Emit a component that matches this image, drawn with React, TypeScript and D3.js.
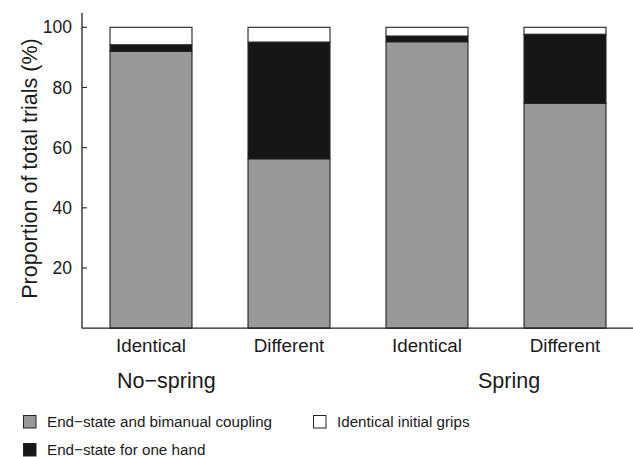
import React from "react";
import * as d3 from "d3";

const conditions = ["Identical", "Different", "Identical", "Different"];
const groups = ["No\u2212spring", "Spring"];
const couplingValues = [92.0, 56.3, 95.2, 74.7];
const oneHandValues = [2.2, 38.8, 1.9, 23.0];
const identicalGripValues = [5.8, 4.9, 2.9, 2.3];
const yTicks = [20, 40, 60, 80, 100];
const seriesNames = ["End\u2212state and bimanual coupling", "End\u2212state for one hand", "Identical initial grips"];
const seriesColors = ["#999999", "#161616", "#ffffff"];

const W = 633;
const H = 457;
const FONT = "'Liberation Sans', Arial, Helvetica, sans-serif";
const TEXT = "#1a1a1a";

export default function App() {
  const x = d3.scaleBand<number>()
    .domain(d3.range(conditions.length))
    .range([82, 634])
    .paddingInner(0.406)
    .paddingOuter(0.203);
  const y = d3.scaleLinear().domain([0, 100]).range([328.2, 27.3]);

  const rows = conditions.map((c, i) => ({
    c,
    i,
    vals: [couplingValues[i], oneHandValues[i], identicalGripValues[i]],
  }));
  const stack = d3.stack<any, number>()
    .keys([0, 1, 2])
    .value((d: any, k: number) => d.vals[k]);
  const stacked = stack(rows as any);

  const x0 = 82;
  const yBase = y(0);

  return (
    <svg width={W} height={H} style={{ position: "absolute", left: 0, top: 0, background: "#fff" }} fontFamily={FONT}>
      <rect x={0} y={0} width={W} height={H} fill="#fff" />
      {stacked.map((layer, k) => (
        <g key={k}>
          {layer.map((seg: any, i: number) => (
            <rect
              key={i}
              x={x(i)}
              y={y(Math.min(seg[1], 100))}
              width={x.bandwidth()}
              height={y(seg[0]) - y(Math.min(seg[1], 100))}
              fill={seriesColors[k]}
              stroke="#222"
              strokeWidth={1.1}
            />
          ))}
        </g>
      ))}
      {/* axes */}
      <line x1={x0} x2={x0} y1={13} y2={yBase} stroke="#222" strokeWidth={1.3} />
      <line x1={x0} x2={W} y1={yBase} y2={yBase} stroke="#222" strokeWidth={1.3} />
      {yTicks.map((t) => (
        <g key={t}>
          <line x1={x0} x2={x0 + 5} y1={y(t)} y2={y(t)} stroke="#222" strokeWidth={1.1} />
          <text x={72} y={y(t)} dy="0.35em" textAnchor="end" fontSize={17.5} fill={TEXT}>{t}</text>
        </g>
      ))}
      <text
        transform={`translate(37, ${168.5}) rotate(-90)`}
        textAnchor="middle"
        fontSize={21.5}
        fill={TEXT}
      >
        Proportion of total trials (%)
      </text>
      {conditions.map((c, i) => (
        <text key={i} x={(x(i) as number) + x.bandwidth() / 2} y={352.3} textAnchor="middle" fontSize={18.8} fill={TEXT}>
          {c}
        </text>
      ))}
      <text x={117} y={387.7} fontSize={21.5} fill={TEXT}>{groups[0]}</text>
      <text x={478} y={387.7} fontSize={21.5} fill={TEXT}>{groups[1]}</text>
      {/* legend */}
      {[
        { k: 0, sx: 23.5, sy: 415.5, tx: 47, ty: 426.5 },
        { k: 2, sx: 313.5, sy: 415.5, tx: 337, ty: 426.5 },
        { k: 1, sx: 23.5, sy: 443.5, tx: 47, ty: 454.5 },
      ].map((l) => (
        <g key={l.k}>
          <rect x={l.sx} y={l.sy} width={12.5} height={12.5} fill={seriesColors[l.k]} stroke="#222" strokeWidth={1} />
          <text x={l.tx} y={l.ty} fontSize={15.2} fill={TEXT}>{seriesNames[l.k]}</text>
        </g>
      ))}
    </svg>
  );
}
